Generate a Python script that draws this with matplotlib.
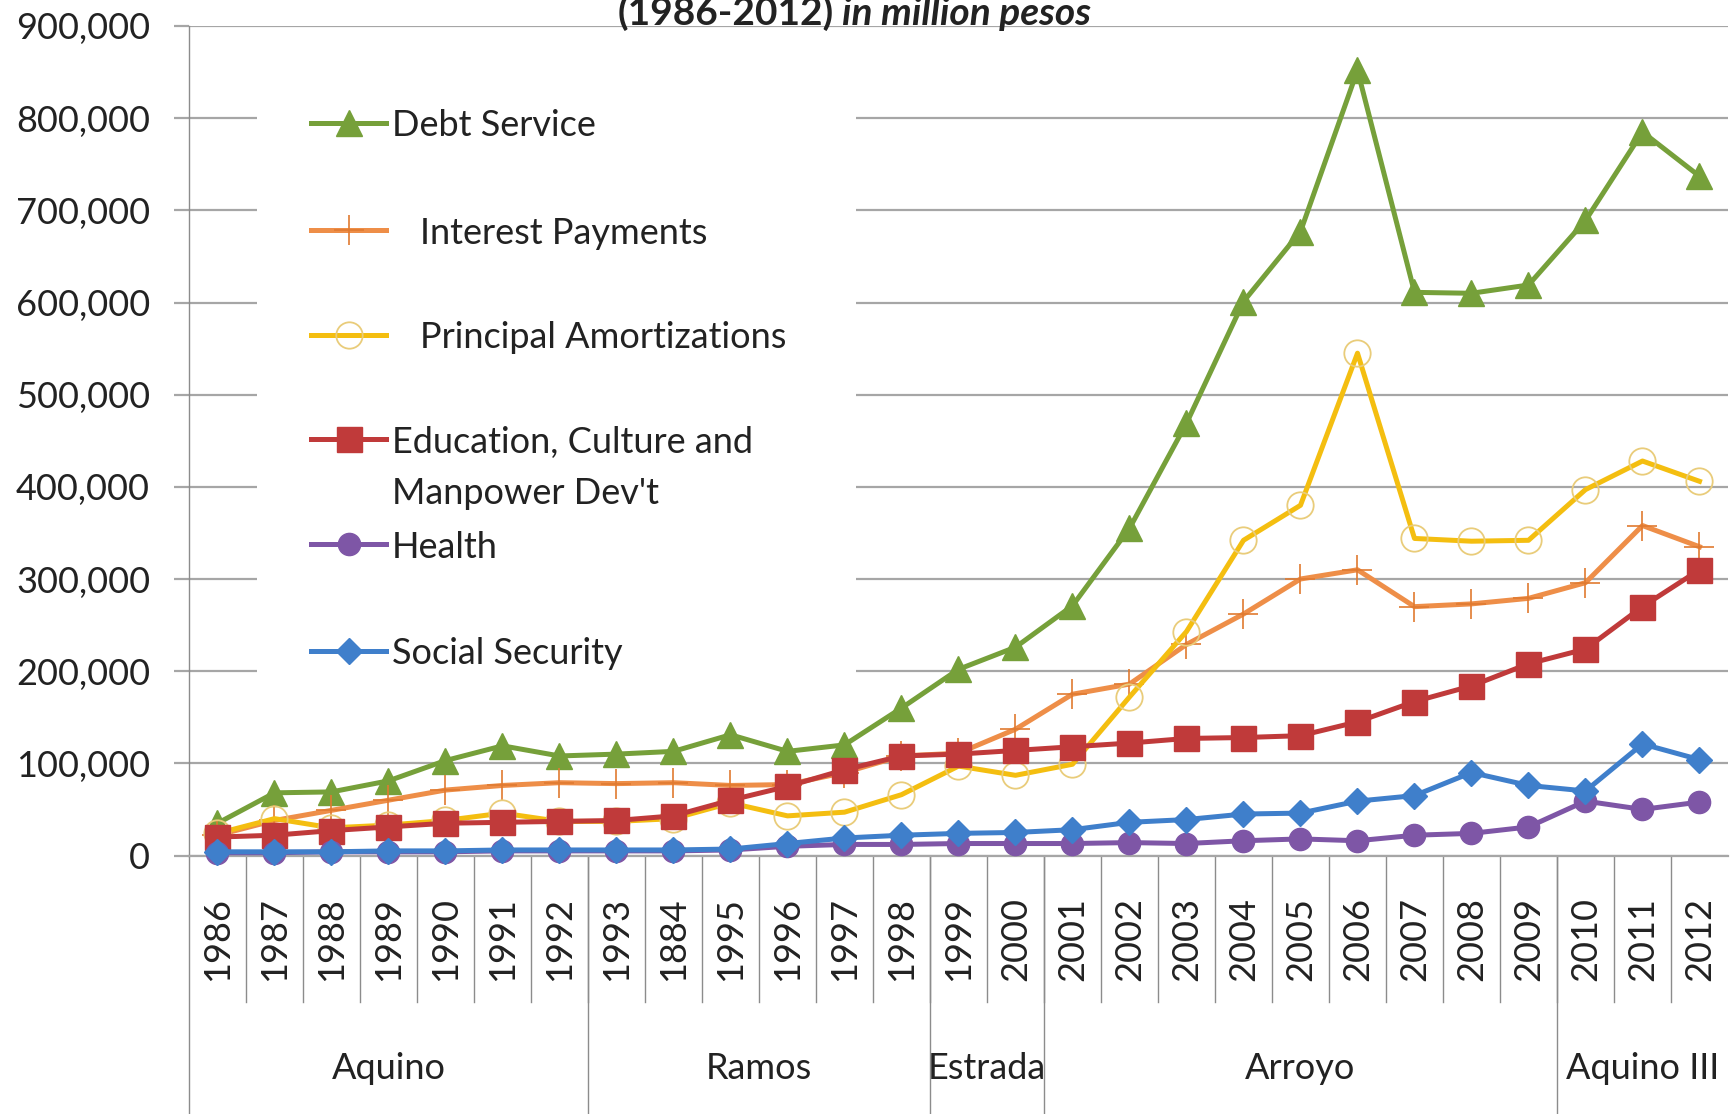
import numpy as np
import matplotlib
matplotlib.use("Agg")
import matplotlib.pyplot as plt
from matplotlib.patches import Rectangle
from matplotlib.ticker import StrMethodFormatter

# annual figures, million pesos
years = ['1986', '1987', '1988', '1989', '1990', '1991', '1992', '1993', '1884',
         '1995', '1996', '1997', '1998', '1999', '2000', '2001', '2002', '2003',
         '2004', '2005', '2006', '2007', '2008', '2009', '2010', '2011', '2012']

debt_service = [35000, 68000, 69000, 81000, 103000, 119000, 108000, 110000, 113000,
                131000, 113000, 120000, 160000, 202000, 226000, 271000, 355000, 469000,
                601000, 677000, 852000, 611000, 610000, 619000, 689000, 785000, 737000]
interest_payments = [22000, 38000, 49000, 60000, 71000, 76000, 79000, 78000, 79000,
                     76000, 77000, 90000, 108000, 111000, 137000, 175000, 186000, 229000,
                     262000, 300000, 310000, 270000, 273000, 279000, 296000, 358000, 335000]
principal_amort = [24000, 40000, 30000, 33000, 38000, 46000, 37000, 37000, 40000,
                   57000, 43000, 47000, 66000, 97000, 87000, 99000, 172000, 243000,
                   342000, 380000, 545000, 344000, 341000, 342000, 397000, 428000, 406000]
education = [20000, 22000, 27000, 31000, 35000, 36000, 37000, 38000, 43000,
             60000, 75000, 93000, 108000, 110000, 114000, 118000, 122000, 127000,
             128000, 130000, 145000, 167000, 184000, 208000, 224000, 270000, 310000]
health = [3000, 3000, 4000, 4000, 4000, 5000, 5000, 5000, 5000,
          6000, 10000, 12000, 12000, 13000, 13000, 13000, 14000, 13000,
          16000, 18000, 16000, 22000, 24000, 31000, 59000, 50000, 58000]
social_security = [4000, 4000, 4000, 5000, 5000, 6000, 6000, 6000, 6000,
                   7000, 13000, 19000, 22000, 24000, 25000, 28000, 36000, 39000,
                   45000, 46000, 59000, 65000, 90000, 76000, 70000, 121000, 104000]

terms = ['Aquino', 'Ramos', 'Estrada', 'Arroyo', 'Aquino III']
term_lengths = [7, 6, 2, 9, 3]

plt.rcParams['font.family'] = ['Lato', 'DejaVu Sans']
txt_color = '#222222'
grid_color = '#A6A6A6'
fs = 26

W, H = 1731, 1114
fig = plt.figure(figsize=(W / 100, H / 100), dpi=100)
left, right, top, bottom = 189, 1728, 26, 855.5
ax = fig.add_axes([left / W, 1 - bottom / H, (right - left) / W, (bottom - top) / H])

x = np.arange(len(years))
series = [
    ('Debt Service', debt_service,
     dict(color='#76A03A', marker='^', ms=19)),
    ('Interest Payments', interest_payments,
     dict(color='#EE8E48', marker='+', ms=22, mew=1.2, mec='#E07A30')),
    ('Principal Amortizations', principal_amort,
     dict(color='#F4BE10', marker='o', ms=19, mfc='none', mec='#E9CC7A', mew=1.3)),
    ('Education, Culture and', education,
     dict(color='#C03A3A', marker='s', ms=18)),
    ('Health', health,
     dict(color='#7E56A6', marker='o', ms=16)),
    ('Social Security', social_security,
     dict(color='#3F7FCB', marker='D', ms=13)),
]
for name, vals, style in series:
    ax.plot(x, vals, lw=3.6, zorder=3, clip_on=False, **style)

ax.set_xlim(-0.5, len(years) - 0.5)
ax.set_ylim(0, 900000)
ax.set_yticks(np.arange(0, 900001, 100000))
ax.yaxis.set_major_formatter(StrMethodFormatter('{x:,.0f}'))
ax.set_axisbelow(True)
ax.yaxis.grid(True, color=grid_color, lw=1.6)
ax.tick_params(axis='y', length=11, width=1.6, color=grid_color, pad=17,
               labelsize=fs, labelcolor=txt_color)
ax.set_xticks(x, years, rotation=90)
ax.tick_params(axis='x', length=0, pad=30, labelsize=fs, labelcolor=txt_color)
for s in ('top', 'right'):
    ax.spines[s].set_visible(False)
ax.spines['left'].set_color('#8C8C8C')
ax.spines['left'].set_linewidth(1)
ax.spines['bottom'].set_color(grid_color)
ax.spines['bottom'].set_linewidth(1.6)

# year dividers and term dividers below the axis
xt = ax.get_xaxis_transform()
for b in range(1, len(years)):
    ax.plot([b - 0.5, b - 0.5], [0, -0.177], transform=xt, color='#8C8C8C',
            lw=1, clip_on=False)
starts = np.concatenate([[0], np.cumsum(term_lengths)[:-1]])
for s0 in starts:
    ax.plot([s0 - 0.5, s0 - 0.5], [0, -0.33], transform=xt, color='#8C8C8C',
            lw=1, clip_on=False)
for name, s0, n in zip(terms, starts, term_lengths):
    ax.text(s0 + (n - 1) / 2, -0.257, name, transform=xt, ha='center',
            va='center', fontsize=fs, color=txt_color)

# title (top line runs off the canvas)
fig.text(834 / W, 1 - 25 / H, '(1986-2012)', ha='right', va='baseline',
         fontsize=28, fontweight='bold', color=txt_color)
fig.text(842 / W, 1 - 25 / H, 'in million pesos', ha='left', va='baseline',
         fontsize=28, fontweight='bold', fontstyle='italic', color=txt_color)


# legend drawn by hand so the two-line entry keeps its key on the first line
def ax_x(px):
    return (px - left) / (right - left)


def ax_y(py):
    return (bottom - py) / (bottom - top)


ax.add_patch(Rectangle((ax_x(257), ax_y(700)), ax_x(856) - ax_x(257),
                       ax_y(60) - ax_y(700), transform=ax.transAxes,
                       facecolor='white', edgecolor='none', zorder=1))
rows = [123, 230, 335, 439, 544, 651]
text_x = [392, 420, 420, 392, 392, 392]
for (name, vals, style), py, tx in zip(series, rows, text_x):
    ax.plot([ax_x(311), ax_x(349), ax_x(386)], [ax_y(py)] * 3, transform=ax.transAxes,
            lw=3.6, markevery=[1], zorder=4, clip_on=False, **style)
    ax.text(ax_x(tx), ax_y(py), name, transform=ax.transAxes, ha='left',
            va='center_baseline', fontsize=fs, color=txt_color, zorder=4)
ax.text(ax_x(392), ax_y(491), "Manpower Dev't", transform=ax.transAxes, ha='left',
        va='center_baseline', fontsize=fs, color=txt_color, zorder=4)

fig.savefig('out.png', dpi=100)
